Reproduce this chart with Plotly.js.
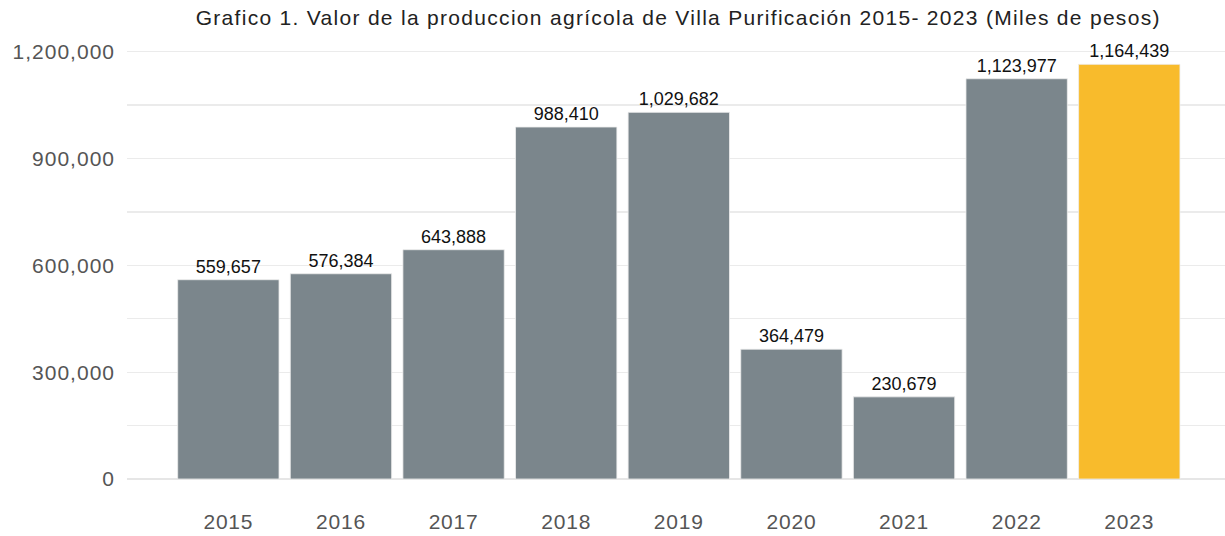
<!DOCTYPE html>
<html>
<head>
<meta charset="utf-8">
<script src="https://cdn.plot.ly/plotly-3.0.1.min.js"></script>
<style>
html,body{margin:0;padding:0;background:#fff;}
#chart{width:1225px;height:536px;}
#chart .gtitle{letter-spacing:1.3px;}
#chart .xtick text{letter-spacing:0.8px;}
#chart .ytick text{letter-spacing:1px;}
</style>
</head>
<body>
<div id="chart"></div>
<script>
const years = ["2015","2016","2017","2018","2019","2020","2021","2022","2023"];
const values = [559657, 576384, 643888, 988410, 1029682, 364479, 230679, 1123977, 1164439];
const barColors = ["#7b868c","#7b868c","#7b868c","#7b868c","#7b868c","#7b868c","#7b868c","#7b868c","#f8bb2c"];
const yTicks = [0, 300000, 600000, 900000, 1200000];
const yTickText = ["0", "300,000", "600,000", "900,000", "1,200,000"];
const titleText = "Grafico 1. Valor de la produccion agrícola de Villa Purificación 2015- 2023 (Miles de pesos)";

const trace = {
  type: "bar",
  x: years,
  y: values,
  marker: {color: barColors, line: {color: "#eeeeee", width: 0.8}},
  text: values.map(v => v.toLocaleString("en-US")),
  textposition: "outside",
  textfont: {family: "Liberation Sans, Arial, sans-serif", size: 18, color: "#111111"},
  cliponaxis: false,
  width: 0.9,
  hoverinfo: "x+y"
};

const layout = {
  width: 1225,
  height: 536,
  margin: {l: 127, r: 0, t: 41, b: 57},
  paper_bgcolor: "#ffffff",
  plot_bgcolor: "#ffffff",
  showlegend: false,
  title: {
    text: titleText,
    font: {family: "Liberation Sans, Arial, sans-serif", size: 21, color: "#222222"},
    xref: "paper", x: 0.502, xanchor: "center",
    yref: "container", y: 0.968, yanchor: "middle"
  },
  xaxis: {
    type: "category",
    range: [-0.9, 8.85],
    showgrid: false,
    zeroline: false,
    showline: false,
    ticks: "",
    ticklabelstandoff: 28,
    tickfont: {family: "Liberation Sans, Arial, sans-serif", size: 21, color: "#555555"}
  },
  yaxis: {
    range: [0, 1230000],
    tickvals: yTicks,
    ticktext: yTickText,
    showgrid: true,
    gridcolor: "#ebebeb",
    gridwidth: 1.3,
    zeroline: true,
    zerolinecolor: "#e6e6e6",
    zerolinewidth: 1.5,
    showline: false,
    ticks: "",
    ticklabelstandoff: 11,
    minor: {dtick: 150000, tick0: 0, showgrid: true, gridcolor: "#ebebeb", gridwidth: 1.3},
    tickfont: {family: "Liberation Sans, Arial, sans-serif", size: 21, color: "#555555"}
  }
};

Plotly.newPlot("chart", [trace], layout, {displayModeBar: false, staticPlot: true});
</script>
</body>
</html>
